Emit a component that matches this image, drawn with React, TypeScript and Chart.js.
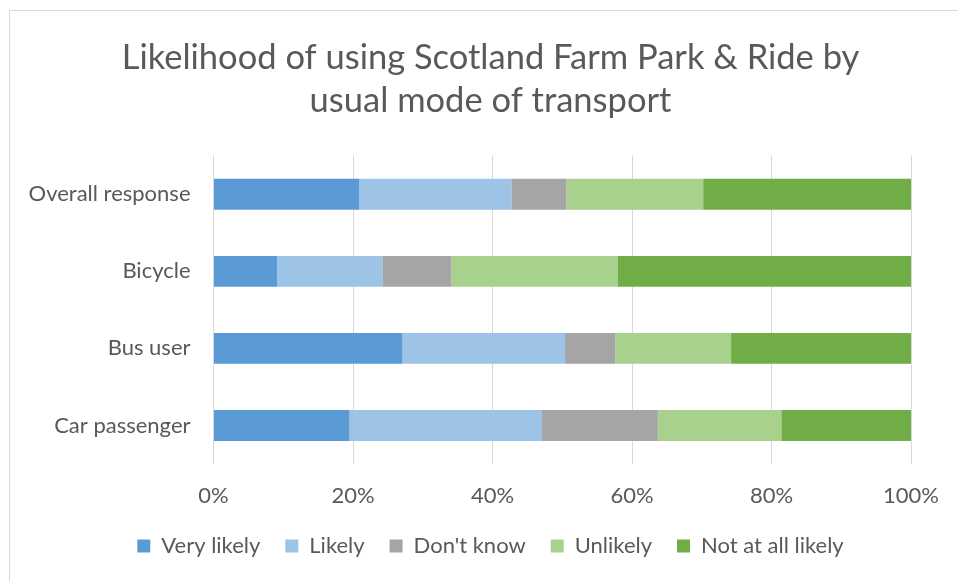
import React, { useEffect, useRef } from "react";
import { Chart, registerables } from "chart.js";

Chart.register(...registerables);

const categories = ["Overall response", "Bicycle", "Bus user", "Car passenger"];
const seriesNames = ["Very likely", "Likely", "Don't know", "Unlikely", "Not at all likely"];
const veryLikely = [20.9, 9.1, 27.1, 19.5];
const likely = [21.8, 15.1, 23.3, 27.6];
const dontKnow = [7.9, 9.9, 7.2, 16.6];
const unlikely = [19.6, 23.8, 16.6, 17.7];
const notAtAll = [29.8, 42.1, 25.8, 18.6];
const seriesColors = ["#5B9BD5", "#9DC3E6", "#A5A5A5", "#A9D18E", "#70AD47"];
const xTicks = [0, 20, 40, 60, 80, 100];
const titleLines = ["Likelihood of using Scotland Farm Park & Ride by", "usual mode of transport"];

const FONT = "Lato, 'Open Sans', sans-serif";
const TEXT = "#595959";

const borderPlugin = {
  id: "outerBorder",
  beforeDraw(chart: any) {
    const ctx = chart.ctx;
    ctx.save();
    ctx.fillStyle = "#ffffff";
    ctx.fillRect(0, 0, chart.width, chart.height);
    ctx.strokeStyle = "#d9d9d9";
    ctx.lineWidth = 1;
    ctx.strokeRect(9.5, 10.5, 1200, 1200);
    ctx.restore();
  },
};

export default function App() {
  const ref = useRef<HTMLCanvasElement>(null);
  useEffect(() => {
    if (!ref.current) return;
    const values = [veryLikely, likely, dontKnow, unlikely, notAtAll];
    const chart = new Chart(ref.current, {
      type: "bar",
      data: {
        labels: categories,
        datasets: seriesNames.map((name, i) => ({
          label: name,
          data: values[i],
          backgroundColor: seriesColors[i],
          borderWidth: 0,
          barPercentage: 0.4,
          categoryPercentage: 1,
        })),
      },
      plugins: [borderPlugin],
      options: {
        indexAxis: "y",
        responsive: false,
        animation: false,
        layout: { padding: { left: 23, right: 0, top: 0, bottom: 14 } },
        scales: {
          x: {
            stacked: true,
            min: 0,
            max: 100,
            afterBuildTicks: (s: any) => {
              s.ticks = xTicks.map((v) => ({ value: v }));
            },
            grid: { color: "#d9d9d9", lineWidth: 1, drawTicks: false },
            border: { display: false },
            ticks: {
              color: TEXT,
              font: { family: FONT, size: 22 },
              padding: 19,
              callback: (v: any) => v + "%",
            },
            afterFit: (s: any) => {
              s.height = 46;
            },
          },
          y: {
            stacked: true,
            grid: { display: false, drawTicks: false },
            border: { display: false },
            ticks: { color: TEXT, font: { family: FONT, size: 22 }, padding: 23 },
            afterFit: (s: any) => {
              s.width = 190.5;
            },
          },
          y2: {
            type: "category",
            position: "right",
            display: true,
            grid: { display: false, drawTicks: false },
            border: { display: false },
            ticks: { display: false },
            afterFit: (s: any) => {
              s.width = 41.8;
            },
          },
        },
        plugins: {
          title: {
            display: true,
            text: titleLines,
            color: TEXT,
            font: { family: FONT, size: 34.5, weight: "normal", lineHeight: 43 / 34.5 },
            padding: { top: 36, bottom: 33.7 },
          },
          legend: {
            position: "bottom",
            labels: {
              color: TEXT,
              font: { family: FONT, size: 22 },
              boxWidth: 13,
              boxHeight: 13,
              padding: 25,
            },
          },
          tooltip: { enabled: false },
        },
      },
    });
    return () => chart.destroy();
  }, []);
  return (
    <div style={{ position: "absolute", left: 0, top: 0, width: 958, height: 581, background: "#fff" }}>
      <canvas ref={ref} width={958} height={581} style={{ display: "block" }} />
    </div>
  );
}
